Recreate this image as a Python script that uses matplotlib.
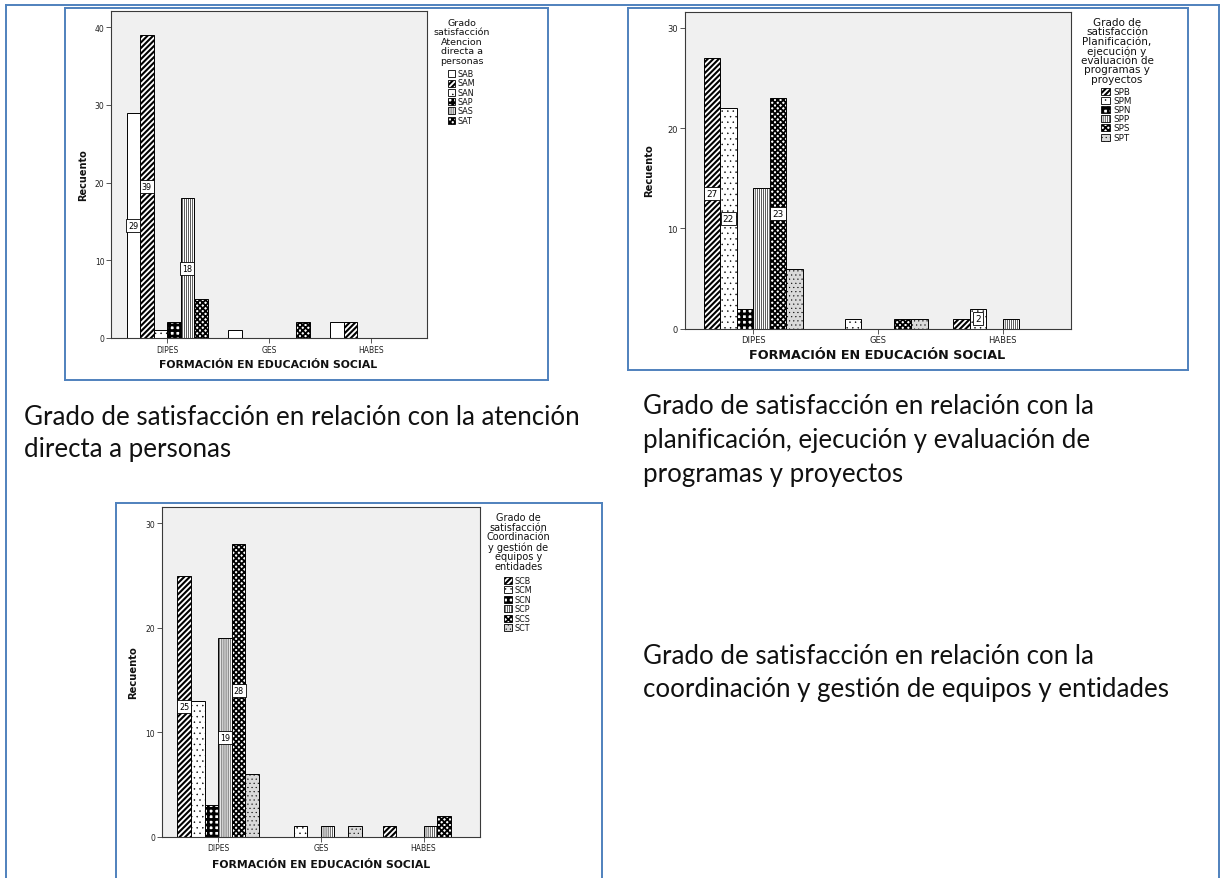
import numpy as np
import matplotlib
matplotlib.use("Agg")
import matplotlib.pyplot as plt
from matplotlib.patches import Rectangle
from matplotlib.lines import Line2D

# ---------------------------------------------------------------- data
categories = ["DIPES", "GES", "HABES"]

# Atención directa a personas
atencion_series = ["SAB", "SAM", "SAN", "SAP", "SAS", "SAT"]
atencion_dipes = [29, 39, 1, 2, 18, 5]
atencion_ges = [1, 0, 0, 0, 0, 2]
atencion_habes = [2, 2, 0, 0, 0, 0]
atencion_labelled = [("DIPES", "SAB"), ("DIPES", "SAM"), ("DIPES", "SAS")]

# Planificación, ejecución y evaluación de programas y proyectos
planif_series = ["SPB", "SPM", "SPN", "SPP", "SPS", "SPT"]
planif_dipes = [27, 22, 2, 14, 23, 6]
planif_ges = [0, 1, 0, 0, 1, 1]
planif_habes = [1, 2, 0, 1, 0, 0]
planif_labelled = [("DIPES", "SPB"), ("DIPES", "SPM"), ("DIPES", "SPS"),
                   ("HABES", "SPM")]

# Coordinación y gestión de equipos y entidades
coord_series = ["SCB", "SCM", "SCN", "SCP", "SCS", "SCT"]
coord_dipes = [25, 13, 3, 19, 28, 6]
coord_ges = [0, 1, 0, 1, 0, 1]
coord_habes = [1, 0, 0, 1, 2, 0]
coord_labelled = [("DIPES", "SCB"), ("DIPES", "SCP"), ("DIPES", "SCS")]

atencion_title = ["Grado", "satisfacción", "Atencion", "directa a", "personas"]
planif_title = ["Grado de", "satisfacción", "Planificación,", "ejecución y",
                "evaluación de", "programas y", "proyectos"]
coord_title = ["Grado de", "satisfacción", "Coordinación", "y gestión de",
               "equipos y", "entidades"]

caption_atencion = ["Grado de satisfacción en relación con la atención",
                    "directa a personas"]
caption_planif = ["Grado de satisfacción en relación con la",
                  "planificación, ejecución y evaluación de",
                  "programas y proyectos"]
caption_coord = ["Grado de satisfacción en relación con la",
                 "coordinación y gestión de equipos y entidades"]

x_title = "FORMACIÓN EN EDUCACIÓN SOCIAL"
y_title = "Recuento"

# ---------------------------------------------------------------- styles
FILLS = {
    "blank":   dict(fc="white",   hatch=None,          hlw=0.5),
    "diag":    dict(fc="white",   hatch="//////",      hlw=1.5),
    "dots":    dict(fc="white",   hatch="...",         hlw=0.3),
    "check":   dict(fc="white",   hatch="+++",         hlw=2.0),
    "vlines":  dict(fc="white",   hatch="||||||||",    hlw=0.45),
    "cross":   dict(fc="white",   hatch="xxxxxx",      hlw=1.3),
    "stipple": dict(fc="#d9d9d9", hatch="....",        hlw=0.3),
}
atencion_fills = ["blank", "diag", "dots", "check", "vlines", "cross"]
planif_fills = ["diag", "dots", "check", "vlines", "cross", "stipple"]
coord_fills = ["diag", "dots", "check", "vlines", "cross", "stipple"]

W, H = 1221, 879
BLUE = "#4f81bd"
FRAME = "#3a3a3a"
BW = 0.1325

plt.rcParams["font.family"] = "DejaVu Sans"
fig = plt.figure(figsize=(W / 100, H / 100), dpi=100)
fig.patch.set_facecolor("white")


def fx(x):
    return x / W


def fy(y):
    return 1 - y / H


def apply_fill(patch, name):
    f = FILLS[name]
    patch.set_facecolor(f["fc"])
    if f["hatch"]:
        patch.set_hatch(f["hatch"])
        if hasattr(patch, "set_hatch_linewidth"):
            patch.set_hatch_linewidth(f["hlw"])


def border(x0, y0, x1, y1, sides="tlbr"):
    pts = {"t": ((x0, x1), (y0, y0)), "b": ((x0, x1), (y1, y1)),
           "l": ((x0, x0), (y0, y1)), "r": ((x1, x1), (y0, y1))}
    for s in sides:
        xs, ys = pts[s]
        fig.add_artist(Line2D([fx(v) for v in xs], [fy(v) for v in ys],
                              transform=fig.transFigure, color=BLUE, lw=1.4,
                              solid_capstyle="projecting"))


def panel(area, ymax, yticks, series, rows, fills, labelled, title_lines,
          legend, ylab_pos, xlab_pos, sizes):
    left, top, right, bottom = area
    ax = fig.add_axes([fx(left), fy(bottom), (right - left) / W,
                       (bottom - top) / H])
    ax.set_facecolor("#f0f0f0")
    vals = np.array(rows)
    xs = np.arange(len(categories))
    for j, name in enumerate(series):
        hts = vals[:, j]
        keep = hts > 0
        bars = ax.bar(xs[keep] + (j - 2.5) * BW, hts[keep], width=BW,
                      edgecolor="black", linewidth=0.7, zorder=2)
        for b in bars:
            apply_fill(b, fills[j])
    for cat, name in labelled:
        i = categories.index(cat)
        j = series.index(name)
        v = vals[i, j]
        ax.text(i + (j - 2.5) * BW, v / 2, f"{v}", ha="center", va="center",
                fontsize=sizes["val"], zorder=5,
                bbox=dict(boxstyle="square,pad=0.25", fc="white",
                          ec="black", lw=0.6))
    ax.set_xlim(-0.55, 2.55)
    ax.set_ylim(0, ymax)
    ax.set_yticks(yticks)
    ax.set_xticks(xs)
    ax.set_xticklabels(categories)
    for sp in ax.spines.values():
        sp.set_color(FRAME)
        sp.set_linewidth(0.8)
    ax.tick_params(direction="out", length=3.5, width=0.6, color=FRAME,
                   labelsize=sizes["tick"], labelcolor="#222222", pad=1.2)

    fig.text(fx(ylab_pos[0]), fy(ylab_pos[1]), y_title, rotation=90,
             ha="center", va="center", fontsize=sizes["ylab"],
             fontweight="bold", color="#111111")
    fig.text(fx(xlab_pos[0]), fy(xlab_pos[1]), x_title, ha="center",
             va="center", fontsize=sizes["xlab"], fontweight="bold",
             color="#111111")

    cx, ty, tstep, sq_x, sq_w, sq_h, tx, ey, estep = legend
    for k, line in enumerate(title_lines):
        fig.text(fx(cx), fy(ty + k * tstep), line, ha="center", va="center",
                 fontsize=sizes["ltitle"], color="#111111")
    for j, name in enumerate(series):
        yc = ey + j * estep
        r = Rectangle((fx(sq_x), fy(yc + sq_h / 2)), sq_w / W, sq_h / H,
                      transform=fig.transFigure, edgecolor="black",
                      linewidth=0.6)
        apply_fill(r, fills[j])
        fig.add_artist(r)
        fig.text(fx(tx), fy(yc), name, ha="left", va="center",
                 fontsize=sizes["lentry"], color="#111111")
    return ax


# outer page frame and panel frames
border(6, 6, 1219, 879, sides="tlr")
border(65, 9, 548, 381)
border(628, 9, 1188, 371)
border(116, 504, 602, 879, sides="tlr")

small = dict(val=5.8, tick=5.5, ylab=7.0, xlab=7.8, ltitle=6.8, lentry=5.8)
large = dict(val=6.4, tick=6.0, ylab=7.2, xlab=9.2, ltitle=7.5, lentry=6.3)
third = dict(val=5.8, tick=5.5, ylab=7.2, xlab=7.8, ltitle=7.0, lentry=5.8)

panel((111, 12, 427, 339), 42.1, [0, 10, 20, 30, 40], atencion_series,
      [atencion_dipes, atencion_ges, atencion_habes], atencion_fills,
      atencion_labelled, atencion_title,
      (462, 23, 9.6, 448, 7, 7, 458, 74.7, 9.3), (83, 174.7), (268.3, 365.3),
      small)

panel((684.6, 13, 1071.3, 329.7), 31.57, [0, 10, 20, 30], planif_series,
      [planif_dipes, planif_ges, planif_habes], planif_fills,
      planif_labelled, planif_title,
      (1117, 23, 9.45, 1101, 8.5, 7, 1113.5, 92.3, 9.15), (649.5, 170.5),
      (877, 355.7), large)

panel((161.7, 507.7, 480, 837.7), 31.6, [0, 10, 20, 30], coord_series,
      [coord_dipes, coord_ges, coord_habes], coord_fills,
      coord_labelled, coord_title,
      (518.3, 517.7, 9.87, 504.3, 7.4, 7, 514.3, 581, 9.53), (133.3, 672.3),
      (320.8, 864.7), third)

# ---------------------------------------------------------------- captions
CAP_FONT = "Lato"
renderer = fig.canvas.get_renderer()
probe = fig.text(0, 0, caption_planif[0], fontsize=20, family=CAP_FONT)
cap_size = 20 * 450 / probe.get_window_extent(renderer).width
probe.remove()


def caption(lines, x, baselines):
    for line, yb in zip(lines, baselines):
        fig.text(fx(x), fy(yb), line, ha="left", va="baseline",
                 fontsize=cap_size, family=CAP_FONT, color="#111111")


caption(caption_atencion, 24, [425, 457])
caption(caption_planif, 643, [414, 448, 481.7])
caption(caption_coord, 643, [664, 697])

fig.savefig("out.png", dpi=100, facecolor="white")
